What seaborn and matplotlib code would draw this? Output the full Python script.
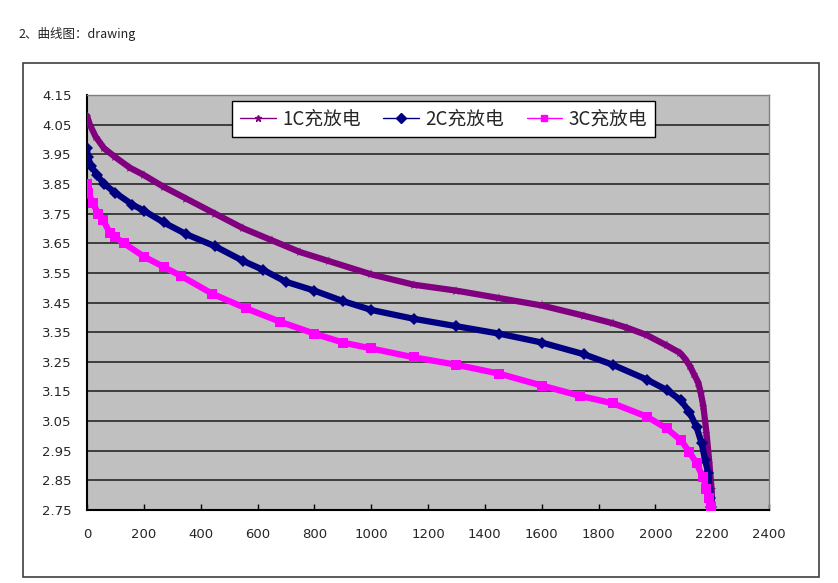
import numpy as np
import pandas as pd
import matplotlib
matplotlib.use("Agg")
import matplotlib.pyplot as plt
from matplotlib.lines import Line2D
from matplotlib.patches import Rectangle
import seaborn as sns

# capacity (x) and voltage (y), one pair of lists per curve
cap_1c = [0, 10, 30, 60, 100, 150, 200, 270, 350, 450, 550, 650, 750, 850, 1000,
          1150, 1300, 1450, 1600, 1750, 1850, 1900, 1970, 2040, 2087, 2105, 2122,
          2135, 2151, 2160, 2169, 2180, 2190, 2198, 2200]
volt_1c = [4.08, 4.05, 4.01, 3.97, 3.94, 3.905, 3.88, 3.84, 3.80, 3.75, 3.70, 3.66,
           3.62, 3.59, 3.545, 3.51, 3.49, 3.465, 3.44, 3.405, 3.38, 3.365, 3.34,
           3.305, 3.28, 3.26, 3.235, 3.21, 3.18, 3.145, 3.10, 3.01, 2.91, 2.82, 2.76]

cap_2c = [0, 3, 15, 35, 60, 100, 160, 200, 270, 350, 450, 550, 620, 700, 800, 900,
          1000, 1150, 1300, 1450, 1600, 1750, 1850, 1970, 2040, 2090, 2120, 2145,
          2163, 2175, 2186, 2194, 2197]
volt_2c = [3.97, 3.94, 3.91, 3.88, 3.85, 3.82, 3.78, 3.76, 3.72, 3.68, 3.64, 3.59,
           3.56, 3.52, 3.49, 3.455, 3.425, 3.395, 3.37, 3.345, 3.315, 3.275, 3.24,
           3.19, 3.155, 3.12, 3.08, 3.03, 2.975, 2.92, 2.875, 2.79, 2.76]

cap_3c = [0, 5, 20, 40, 56, 80, 100, 130, 200, 270, 330, 440, 560, 680, 800, 900,
          1000, 1150, 1300, 1450, 1600, 1735, 1850, 1970, 2040, 2090, 2120, 2145,
          2168, 2180, 2190, 2195]
volt_3c = [3.85, 3.82, 3.785, 3.75, 3.73, 3.685, 3.67, 3.65, 3.605, 3.57, 3.54, 3.48,
           3.43, 3.385, 3.345, 3.315, 3.295, 3.265, 3.24, 3.21, 3.17, 3.135, 3.11,
           3.065, 3.025, 2.985, 2.946, 2.907, 2.86, 2.82, 2.79, 2.76]

series_names = ["1C充放电", "2C充放电", "3C充放电"]
series_colors = ["#800080", "#000080", "#FF00FF"]
series_markers = ["*", "D", "s"]

y_ticks = [2.75, 2.85, 2.95, 3.05, 3.15, 3.25, 3.35, 3.45, 3.55, 3.65, 3.75, 3.85, 3.95, 4.05, 4.15]
x_ticks = [0, 200, 400, 600, 800, 1000, 1200, 1400, 1600, 1800, 2000, 2200, 2400]

frames = []
for name, cap, volt in zip(series_names, [cap_1c, cap_2c, cap_3c], [volt_1c, volt_2c, volt_3c]):
    frames.append(pd.DataFrame({"cap": cap, "volt": volt, "series": name}))
df = pd.concat(frames, ignore_index=True)

sns.set_theme(style="ticks")
plt.rcParams["font.family"] = ["Noto Sans CJK SC", "DejaVu Sans"]

fig = plt.figure(figsize=(8.38, 5.83), dpi=100)
fig.patch.set_facecolor("white")

# outer chart frame
fig.patches.append(Rectangle((23 / 838, 1 - 577 / 583), 796 / 838, 514 / 583,
                             transform=fig.transFigure, fill=False,
                             edgecolor="#404040", linewidth=1.2))

fig.text(18 / 838, 1 - 34 / 583, "2、曲线图：drawing", fontsize=9, va="center", ha="left",
         color="#222222")

ax = fig.add_axes([87 / 838, 1 - 510 / 583, 682 / 838, 415 / 583])
ax.set_facecolor("#C0C0C0")

for y in y_ticks[1:-1]:
    ax.axhline(y, color="#1a1a1a", linewidth=1.1, zorder=1)

pal = dict(zip(series_names, series_colors))
mk = dict(zip(series_names, series_markers))
sns.lineplot(data=df, x="cap", y="volt", hue="series", style="series",
             palette=pal, markers=mk, dashes=False, sort=False, estimator=None,
             linewidth=4.5, markersize=6.5, markeredgewidth=0, legend=False, ax=ax,
             zorder=3)

ax.set_xlim(0, 2400)
ax.set_ylim(2.75, 4.15)
ax.set_xticks(x_ticks)
ax.set_yticks(y_ticks)
ax.set_xticklabels([str(v) for v in x_ticks], family="DejaVu Sans", fontsize=9.5)
ax.set_yticklabels(["%.2f" % v for v in y_ticks], family="DejaVu Sans", fontsize=9.5)
ax.tick_params(axis="x", direction="in", length=4, width=1, pad=13, color="black")
ax.tick_params(axis="y", length=0, pad=11)
ax.set_xlabel("")
ax.set_ylabel("")

for side in ["left", "bottom"]:
    ax.spines[side].set_color("black")
    ax.spines[side].set_linewidth(1.5)
for side in ["top", "right"]:
    ax.spines[side].set_color("#808080")
    ax.spines[side].set_linewidth(1)

handles = [Line2D([0], [0], color=c, marker=m, markersize=5, linewidth=1)
           for c, m in zip(series_colors, series_markers)]
leg = ax.legend(handles, series_names, loc="upper center", bbox_to_anchor=(0.523, 0.986),
                ncol=3, fontsize=13.5, frameon=True, fancybox=False, handlelength=1.9,
                handletextpad=0.35, columnspacing=1.2, borderpad=0.4,
                borderaxespad=0)
leg.get_frame().set_edgecolor("black")
leg.get_frame().set_linewidth(1)
leg.get_frame().set_facecolor("white")
leg.get_frame().set_alpha(1)
leg.set_zorder(5)

fig.savefig("out.png", dpi=100)
